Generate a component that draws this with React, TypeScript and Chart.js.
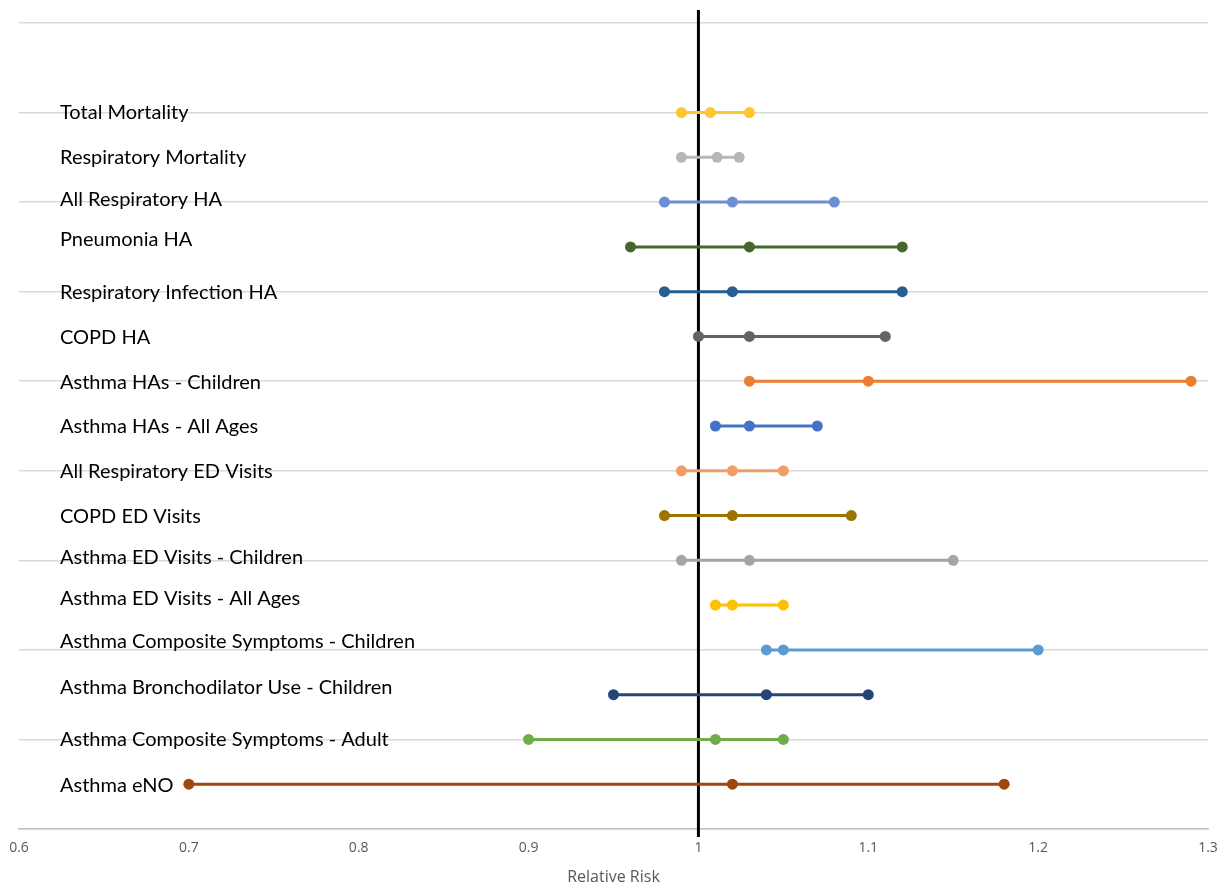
import React, { useEffect, useRef } from "react";
import { Chart, registerables } from "chart.js";

Chart.register(...registerables);

const categories = [
  "Total Mortality",
  "Respiratory Mortality",
  "All Respiratory HA",
  "Pneumonia HA",
  "Respiratory Infection HA",
  "COPD HA",
  "Asthma HAs - Children",
  "Asthma HAs - All Ages",
  "All Respiratory ED Visits",
  "COPD ED Visits",
  "Asthma ED Visits - Children",
  "Asthma ED Visits - All Ages",
  "Asthma Composite Symptoms - Children",
  "Asthma Bronchodilator Use - Children",
  "Asthma Composite Symptoms - Adult",
  "Asthma eNO",
];

// row position on the y axis (top row = 16)
const rowPositions = [16, 15, 14, 13, 12, 11, 10, 9, 8, 7, 6, 5, 4, 3, 2, 1];

const lowerCI = [0.99, 0.99, 0.98, 0.96, 0.98, 1.0, 1.03, 1.01, 0.99, 0.98, 0.99, 1.01, 1.04, 0.95, 0.9, 0.7];
const estimate = [1.007, 1.011, 1.02, 1.03, 1.02, 1.03, 1.1, 1.03, 1.02, 1.02, 1.03, 1.02, 1.05, 1.04, 1.01, 1.02];
const upperCI = [1.03, 1.024, 1.08, 1.12, 1.12, 1.11, 1.29, 1.07, 1.05, 1.09, 1.15, 1.05, 1.2, 1.1, 1.05, 1.18];

const seriesColors = [
  "#FFC532",
  "#B7B7B7",
  "#6C8FD4",
  "#43682B",
  "#255E91",
  "#636363",
  "#ED7D31",
  "#4472C4",
  "#F29D66",
  "#9E7400",
  "#A5A5A5",
  "#FFC000",
  "#5B9BD5",
  "#264478",
  "#70AD47",
  "#9E480E",
];

const xTicks = [0.6, 0.7, 0.8, 0.9, 1, 1.1, 1.2, 1.3];
const referenceValue = 1;
const referenceSpan = [-0.18, 18.29];

// small vertical nudges (px) of the text labels relative to their rows
const labelNudge = [0, 0, -3, -7, 1, 1, 1, 1, 1, 1, -3, -7, -8, -7, 0, 1];

const labelPlugin = {
  id: "rowLabels",
  afterDatasetsDraw(chart: any) {
    const { ctx, scales } = chart;
    ctx.save();
    ctx.font = "20px Lato";
    ctx.fillStyle = "#000000";
    ctx.textAlign = "left";
    ctx.textBaseline = "middle";
    categories.forEach((c, i) => {
      const y = scales.y.getPixelForValue(rowPositions[i]) + labelNudge[i];
      ctx.fillText(c, 60, y);
    });
    ctx.restore();
  },
};

export default function App() {
  const canvasRef = useRef<HTMLCanvasElement | null>(null);

  useEffect(() => {
    document.body.style.margin = "0";
    const canvas = canvasRef.current;
    if (!canvas) return;

    const datasets: any[] = categories.map((c, i) => ({
      label: c,
      data: [
        { x: lowerCI[i], y: rowPositions[i] },
        { x: estimate[i], y: rowPositions[i] },
        { x: upperCI[i], y: rowPositions[i] },
      ],
      borderColor: seriesColors[i],
      backgroundColor: seriesColors[i],
      pointBackgroundColor: seriesColors[i],
      pointBorderColor: seriesColors[i],
      borderWidth: 3,
      pointRadius: 5.5,
      pointBorderWidth: 0,
      showLine: true,
    }));

    datasets.push({
      label: "Reference",
      data: [
        { x: referenceValue, y: referenceSpan[0] },
        { x: referenceValue, y: referenceSpan[1] },
      ],
      borderColor: "#000000",
      borderWidth: 3,
      pointRadius: 0,
      showLine: true,
      clip: false,
      order: 100,
    });

    const chart = new Chart(canvas, {
      type: "scatter",
      data: { datasets },
      plugins: [labelPlugin],
      options: {
        animation: false,
        responsive: false,
        maintainAspectRatio: false,
        layout: { padding: { left: 19, right: 15, top: 23, bottom: 0 } },
        plugins: {
          legend: { display: false },
          tooltip: { enabled: false },
        },
        scales: {
          x: {
            type: "linear",
            min: 0.6,
            max: 1.3,
            afterBuildTicks: (scale: any) => {
              scale.ticks = xTicks.map((v) => ({ value: v }));
            },
            afterFit: (scale: any) => {
              scale.height = 59;
              scale.paddingLeft = 0;
              scale.paddingRight = 0;
            },
            grid: { display: false, drawTicks: false },
            border: { display: true, color: "#BFBFBF", width: 1.5 },
            ticks: {
              color: "#595959",
              font: { family: "Open Sans", size: 14 },
              padding: 11,
              callback: (v: any) => String(Math.round(Number(v) * 10) / 10),
            },
            title: {
              display: true,
              text: "Relative Risk",
              color: "#595959",
              font: { family: "Open Sans", size: 16 },
              padding: { top: 4, bottom: 1 },
            },
          },
          y: {
            type: "linear",
            min: 0,
            max: 18,
            afterFit: (scale: any) => {
              scale.width = 0;
            },
            ticks: { display: false, stepSize: 2 },
            grid: { color: "#D9D9D9", lineWidth: 1.5, drawTicks: false },
            border: { display: false },
          },
        },
      },
    });

    return () => chart.destroy();
  }, []);

  return (
    <div style={{ width: 1223, height: 888, background: "#ffffff" }}>
      <canvas ref={canvasRef} width={1223} height={888} />
    </div>
  );
}
